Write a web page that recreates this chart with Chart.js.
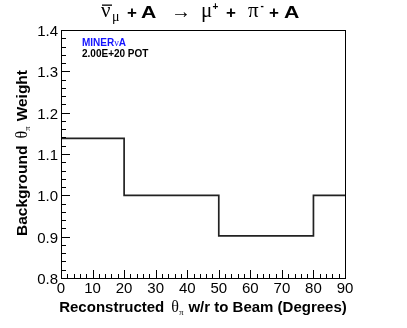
<!DOCTYPE html>
<html>
<head>
<meta charset="utf-8">
<script src="https://cdn.jsdelivr.net/npm/chart.js@4"></script>
<style>
  html, body { margin: 0; padding: 0; background: #fff; }
  #wrap { width: 407px; height: 328px; }
</style>
</head>
<body>
<div id="wrap"><canvas id="weightChart" width="407" height="328"></canvas></div>
<script>
// histogram bins (degrees) and background weight per bin
const binEdges = [0, 20, 50, 80, 90];
const weights = [1.138, 1.0, 0.902, 1.0];

const xTicks = [0, 10, 20, 30, 40, 50, 60, 70, 80, 90];
const yTicks = ['0.8', '0.9', '1.0', '1.1', '1.2', '1.3', '1.4'];
const xMinorStep = 2;
const yMinorStep = 0.02;

const SANS = '"Liberation Sans", Arial, Helvetica, sans-serif';
const SERIF = '"Liberation Serif", "Times New Roman", serif';

// draw a run of text pieces with different fonts, starting at x
function drawRuns(ctx, runs, x, y) {
  runs.forEach(r => {
    ctx.font = r.font;
    if (r.space) { x += r.space; return; }
    ctx.fillText(r.text, x, y + (r.dy || 0));
    x += ctx.measureText(r.text).width;
  });
}
function runsWidth(ctx, runs) {
  let w = 0;
  runs.forEach(r => {
    if (r.space) { w += r.space; return; }
    ctx.font = r.font;
    w += ctx.measureText(r.text).width;
  });
  return w;
}

const rootStyle = {
  id: 'rootStyle',
  afterDraw(chart) {
    const ctx = chart.ctx;
    const a = chart.chartArea;
    const xs = chart.scales.x, ys = chart.scales.y;
    ctx.save();
    ctx.fillStyle = '#000';
    ctx.strokeStyle = '#000';

    // frame
    ctx.lineWidth = 1;
    ctx.strokeRect(Math.round(a.left) + 0.5, Math.round(a.top) + 0.5,
      Math.round(a.right - a.left), Math.round(a.bottom - a.top));

    // ticks pointing inside
    ctx.beginPath();
    for (let v = xs.min; v <= xs.max + 1e-9; v += xMinorStep) {
      const px = Math.round(xs.getPixelForValue(v)) + 0.5;
      const major = Math.abs(v % 10) < 1e-9;
      ctx.moveTo(px, a.bottom);
      ctx.lineTo(px, a.bottom - (major ? 8 : 4));
    }
    for (let v = ys.min; v <= ys.max + 1e-9; v += yMinorStep) {
      const py = Math.round(ys.getPixelForValue(v)) + 0.5;
      const major = Math.abs(Math.round(v * 10) - v * 10) < 1e-6;
      ctx.moveTo(a.left, py);
      ctx.lineTo(a.left + (major ? 9 : 5), py);
    }
    ctx.stroke();

    // tick labels
    ctx.font = '15px ' + SANS;
    ctx.textAlign = 'center';
    ctx.textBaseline = 'alphabetic';
    xTicks.forEach(t => ctx.fillText(String(t), xs.getPixelForValue(t), a.bottom + 15));
    ctx.textAlign = 'right';
    yTicks.forEach(t => ctx.fillText(t, a.left - 3, ys.getPixelForValue(parseFloat(t)) + 6));

    ctx.textAlign = 'left';
    // x axis title
    const xRuns = [
      { text: 'Reconstructed', font: 'bold 15px ' + SANS },
      { space: 7 },
      { text: 'θ', font: '16px ' + SERIF },
      { text: 'π', font: '9px ' + SERIF, dy: 3 },
      { space: 5 },
      { text: 'w/r to Beam (Degrees)', font: 'bold 15px ' + SANS }
    ];
    const xw = runsWidth(ctx, xRuns);
    drawRuns(ctx, xRuns, (a.left + a.right) / 2 - xw / 2, a.bottom + 34);

    // y axis title (rotated)
    const yRuns = [
      { text: 'Background', font: 'bold 15.5px ' + SANS },
      { space: 7 },
      { text: 'θ', font: '16px ' + SERIF },
      { text: 'π', font: '9px ' + SERIF, dy: 3 },
      { space: 5 },
      { text: 'Weight', font: 'bold 15.5px ' + SANS }
    ];
    const yw = runsWidth(ctx, yRuns);
    ctx.save();
    ctx.translate(27, (a.top + a.bottom) / 2 - 1);
    ctx.rotate(-Math.PI / 2);
    drawRuns(ctx, yRuns, -yw / 2, 0);
    ctx.restore();

    // main title, pieces placed the way the ROOT latex layout spaces them
    const B = 'bold 17px ' + SANS;
    const G = '21px ' + SERIF;
    const piece = (text, font, x, y, sx) => {
      ctx.save();
      ctx.font = font;
      ctx.translate(x, y);
      ctx.scale(sx || 1, 1);
      ctx.fillText(text, 0, 0);
      ctx.restore();
    };
    piece('ν', G, 101, 17);
    ctx.fillRect(102, 4.5, 10, 1.3);
    piece('μ', '14px ' + SERIF, 112, 21);
    piece('+', B, 127, 17.5);
    piece('A', B, 141, 17.5, 1.25);
    piece('→', '20px ' + SERIF, 171, 18);
    piece('μ', G, 201, 17);
    piece('+', 'bold 10px ' + SANS, 212.5, 10);
    piece('+', B, 226, 17.5);
    piece('π', G, 248, 17);
    piece('-', 'bold 10px ' + SANS, 260.5, 9);
    piece('+', B, 269, 17.5);
    piece('A', B, 284, 17.5, 1.25);

    // experiment label
    ctx.fillStyle = '#1414ff';
    drawRuns(ctx, [
      { text: 'MINER', font: 'bold 10px ' + SANS },
      { text: 'ν', font: '10px ' + SERIF },
      { text: 'A', font: 'bold 10px ' + SANS }
    ], 82, 46);
    ctx.fillStyle = '#000';
    ctx.font = 'bold 10px ' + SANS;
    ctx.fillText('2.00E+20 POT', 82, 57);

    ctx.restore();
  }
};

const points = binEdges.map((x, i) => ({ x: x, y: weights[Math.min(i, weights.length - 1)] }));

new Chart(document.getElementById('weightChart'), {
  type: 'line',
  data: {
    datasets: [{
      data: points,
      stepped: 'before',
      borderColor: '#222',
      borderWidth: 1.7,
      pointRadius: 0,
      fill: false
    }]
  },
  options: {
    responsive: false,
    animation: false,
    events: [],
    layout: { padding: { left: 61, right: 62, top: 30, bottom: 50 } },
    plugins: { legend: { display: false }, tooltip: { enabled: false } },
    scales: {
      x: { type: 'linear', min: 0, max: 90, display: false },
      y: { type: 'linear', min: 0.8, max: 1.4, display: false }
    }
  },
  plugins: [rootStyle]
});
</script>
</body>
</html>
